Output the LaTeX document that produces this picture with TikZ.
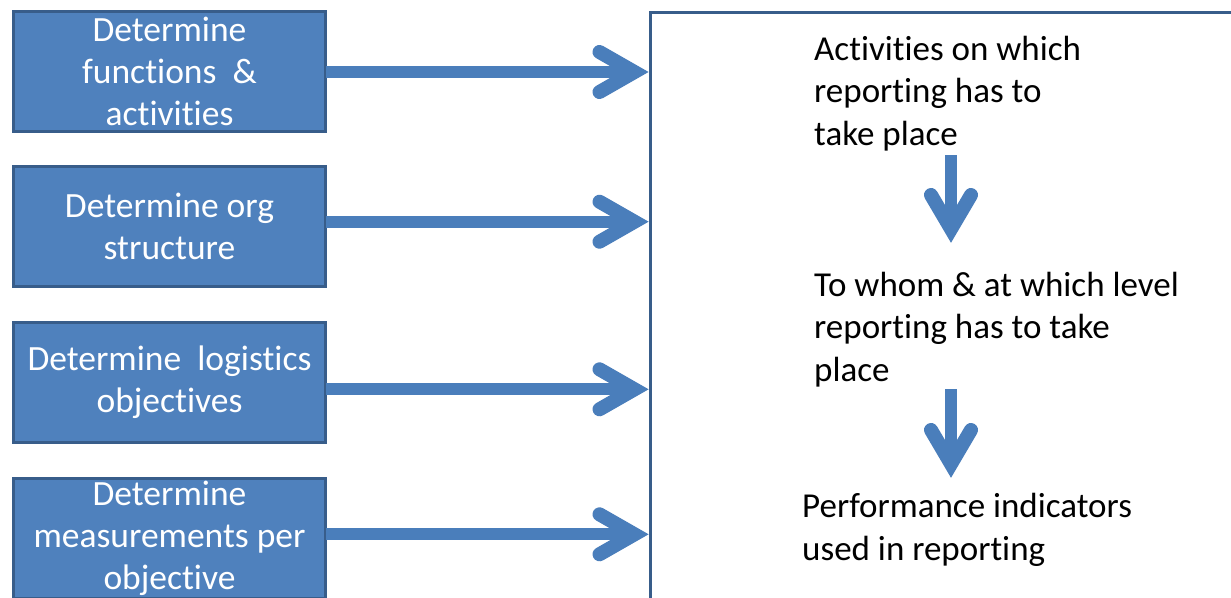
\documentclass[tikz,border=0pt]{standalone}
\usepackage{fontspec}
\setmainfont[Ligatures=NoCommon]{Carlito}
\definecolor{boxfill}{HTML}{4F81BD}
\definecolor{boxline}{HTML}{385D8A}
\definecolor{arrowblue}{HTML}{4A7EBB}

\begin{document}
\begin{tikzpicture}[x=1pt,y=-1pt,
  stepbox/.style={draw=boxline, line width=3pt, fill=boxfill, text=white,
    minimum width=312pt, minimum height=120pt, align=center, inner sep=0pt,
    outer sep=0pt, font=\fontsize{35.5}{42}\selectfont},
  note/.style={anchor=base west, align=left, inner sep=0pt,
    font=\fontsize{35}{42.5}\selectfont},
  panelbox/.style={draw=boxline, line width=3pt, minimum width=700pt,
    minimum height=700pt, anchor=north west, inner sep=0pt, outer sep=0pt},
  shaft/.style={draw=arrowblue, line width=12pt},
  head/.style={draw=arrowblue, line width=14pt, line cap=round, line join=miter}]

\clip (0,0) rectangle (1231,597);
\fill[white] (0,0) rectangle (1231,597);

% steps on the left
\node[stepbox] (b1) at (169.5,71.5)  {Determine\\functions~~\&\\activities};
\node[stepbox] (b2) at (169.5,226.5) {Determine org\\structure};
\node[stepbox] (b3) at (169.5,382.5) {Determine~~logistics\\objectives};
\node[stepbox] (b4) at (169.5,538.5) {Determine\\measurements per\\objective};

% panel on the right
\node[panelbox] (panel) at (650.5,12.5) {};

% arrow tips on the panel edge
\coordinate (t1) at (panel.west |- 0,72);
\coordinate (t2) at (panel.west |- 0,221.7);
\coordinate (t3) at (panel.west |- 0,389.3);
\coordinate (t4) at (panel.west |- 0,534.3);

\foreach \i in {1,2,3,4}{
  \draw[shaft] (b\i.east |- t\i) -- ([xshift=-18pt]t\i);
  \draw[head] (t\i) ++(-51,-20) -- ++(35,20) -- ++(-35,20);
}

% texts in the panel (placed by the baseline of their last line)
\node[note] (n1) at (814,145) {Activities on which\\reporting has to\\take place};
\node[note] (n2) at (814,381) {To whom \& at which level\\reporting has to take\\place};
\node[note] (n3) at (802,560) {Performance indicators\\used in reporting};

% downward arrows between the texts
\coordinate (d1s) at (951,155);
\coordinate (d1t) at (951,243);
\coordinate (d2s) at (951,389);
\coordinate (d2t) at (951,478);
\foreach \j in {1,2}{
  \draw[shaft] (d\j s) -- ([yshift=16pt]d\j t);
  \draw[head] (d\j t) ++(-20,-48) -- ++(20,34) -- ++(20,-34);
}
\end{tikzpicture}
\end{document}
